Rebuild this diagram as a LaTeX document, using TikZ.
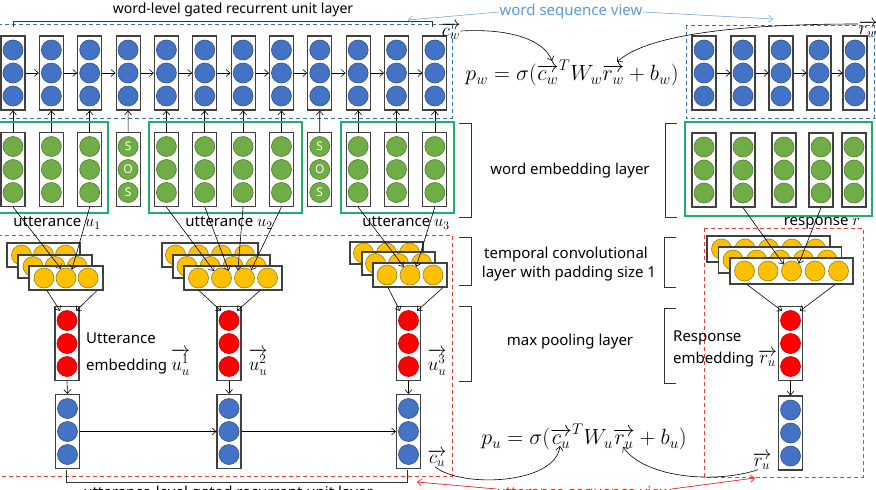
\RequirePackage{fix-cm}
\documentclass[tikz,border=0pt]{standalone}
\usepackage[no-math]{fontspec}
\setmainfont{Noto Sans}
\usetikzlibrary{arrows.meta}
\definecolor{cblue}{RGB}{68,114,196}
\definecolor{cbluedk}{RGB}{47,82,143}
\definecolor{cgreen}{RGB}{112,173,71}
\definecolor{cgreendk}{RGB}{80,126,50}
\definecolor{corange}{RGB}{255,192,0}
\definecolor{corangedk}{RGB}{140,130,20}
\definecolor{cred}{RGB}{255,0,0}
\definecolor{creddk}{RGB}{192,0,0}
\definecolor{boxgray}{RGB}{64,64,64}
\definecolor{grpgreen}{RGB}{30,175,105}
\definecolor{dashblue}{RGB}{46,117,182}
\definecolor{viewblue}{RGB}{91,155,213}
\definecolor{dashred}{RGB}{235,60,60}
\definecolor{viewred}{RGB}{240,30,30}
\tikzset{
 colbox/.style={draw=boxgray, line width=1.1pt, fill=white, minimum width=24pt, minimum height=74pt, inner sep=0pt},
 cdot/.style={circle, inner sep=0pt, minimum size=20pt, line width=0.6pt},
 bdot/.style={cdot, fill=cblue, draw=cbluedk},
 gdot/.style={cdot, fill=cgreen, draw=cgreendk, text=white, font=\fontsize{12}{12}\selectfont},
 odot/.style={cdot, fill=corange, draw=corangedk},
 rdot/.style={cdot, fill=cred, draw=creddk},
 convbox/.style={draw=boxgray, line width=1.1pt, fill=white, inner sep=0pt},
 arr/.style={-{Straight Barb[length=4pt,width=7pt]}, line width=0.6pt},
 lbl/.style={font=\fontsize{15}{18}\selectfont, inner sep=0pt},
 mlbl/.style={font=\fontsize{19}{22}\selectfont, inner sep=0pt},
 brk/.style={line width=0.8pt, draw=black!80},
 grp/.style={draw=grpgreen, line width=1.6pt},
 bdash/.style={draw=dashblue, line width=0.9pt, dash pattern=on 4pt off 3pt},
 rdash/.style={draw=dashred, line width=0.9pt, dash pattern=on 4pt off 3pt},
}
\newcommand\mkcol[4]{%
  \node[colbox] (#1) at (#2,#3) {};
  \node[#4] (#1t) at (#2,#3-23) {};
  \node[#4] (#1m) at (#2,#3) {};
  \node[#4] (#1b) at (#2,#3+23) {};
}
\newcommand\mksos[3]{%
  \node[colbox] (#1) at (#2,#3) {};
  \node[gdot] (#1t) at (#2,#3-23) {S};
  \node[gdot] (#1m) at (#2,#3) {O};
  \node[gdot] (#1b) at (#2,#3+23) {S};
}
\newcommand\mkconv[6]{%
  \node[convbox, minimum width=#4, minimum height=#5] (#1) at (#2,#3) {};
  \foreach \o [count=\k] in {#6} \node[odot] (#1-\k) at ({#2+\o},#3) {};
}
\begin{document}
\begin{tikzpicture}[x=1pt,y=-1pt]
\useasboundingbox (0,0) rectangle (876,490);
% view frames
\draw[bdash] (-2,24) rectangle (452,118);
\draw[bdash] (686,25) rectangle (874,118);
\draw[rdash] (-2,235) rectangle (452,476);
\draw[rdash] (704,228) rectangle (863,477);
% word-level GRU (context)
\foreach \i in {1,...,12} {
  \pgfmathsetmacro\xx{13+38.35*(\i-1)}
  \mkcol{w\i}{\xx}{73}{bdot}
}
\foreach \i [evaluate=\i as \j using int(\i+1)] in {1,...,11}
  \draw[arr] (w\i.east) -- (w\j.west);
% word embeddings (context)
\foreach \i in {1,2,3,5,6,7,8,10,11,12} {
  \pgfmathsetmacro\xx{13+38.35*(\i-1)}
  \mkcol{e\i}{\xx}{169.5}{gdot}
}
\mksos{e4}{128.05}{169.5}
\mksos{e9}{319.75}{169.5}
\foreach \i in {1,...,12}
  \draw[arr] (e\i.north) -- (w\i.south);
% utterance groups
\draw[grp] (-3,122) rectangle (108,213);
\draw[grp] (149,122) rectangle (302,213);
\draw[grp] (341,122) rectangle (454,213);
% response side GRU and embeddings
\foreach \x [count=\i] in {704,743,781,819,855}
  \mkcol{rw\i}{\x}{73}{bdot};
\foreach \i [evaluate=\i as \j using int(\i+1)] in {1,...,4}
  \draw[arr] (rw\i.east) -- (rw\j.west);
\foreach \x [count=\i] in {704,743,784,821,854}
  \mkcol{re\i}{\x}{170}{gdot};
\draw[grp] (685,122) rectangle (872,216);
% labels top
\node[lbl, font=\fontsize{14}{17}\selectfont] (tw) at (233,10) {word-level gated recurrent unit layer};
\draw[brk] (13,27) -- (13,21) -- (432,21) -- (432,27);
\node[lbl, text=viewblue] (wsv) at (571,12) {word sequence view};
\coordinate (wsvL) at (408,20);
\coordinate (wsvR) at (773,19);
\draw[arr, viewblue, line width=0.5pt] (wsv.west) -- (wsvL);
\draw[arr, viewblue, line width=0.5pt] (wsv.east) -- (wsvR);
\node[mlbl] (cw) at (451,31) {$\overrightarrow{c_w}$};
\node[mlbl] (rw) at (868,29) {$\overrightarrow{r_w}$};
\node[font=\fontsize{22}{25}\selectfont, inner sep=0pt] (pw) at (572,73) {$p_w=\sigma(\overrightarrow{c_w}^T W_w\overrightarrow{r_w}+b_w)$};
\coordinate (pwc) at (552,61);
\coordinate (pwr) at (617,62);
\draw[arr] (cw.east) .. controls (515,28) and (545,42) .. (pwc);
\draw[arr] ([yshift=5pt]rw.west) .. controls (730,24) and (645,36) .. (pwr);
% utterance labels
\node[lbl] (ul1) at (57,223) {utterance \fontsize{16.5}{18}\selectfont$u_1$};
\node[lbl] (ul2) at (229,223) {utterance \fontsize{16.5}{18}\selectfont$u_2$};
\node[lbl] (ul3) at (406,223) {utterance \fontsize{16.5}{18}\selectfont$u_3$};
\node[lbl] (rl) at (822,223) {response \fontsize{16.5}{18}\selectfont$r$};
% convolution stacks
\mkconv{ca1}{43.5}{255}{73}{24}{-22,0,22}
\mkconv{cb1}{55}{266.5}{74}{23}{-22,0,22}
\mkconv{cc1}{66}{278}{74}{24}{-22,0,22}
\mkconv{ca2}{210}{255}{96}{24}{-34.5,-11.5,11.5,34.5}
\mkconv{cb2}{221.5}{266.5}{97}{23}{-34.5,-11.5,11.5,34.5}
\mkconv{cc2}{233}{278}{98}{24}{-34.5,-11.5,11.5,34.5}
\mkconv{ca3}{386.5}{253}{73}{22}{-23,0,23}
\mkconv{cb3}{398.5}{263.5}{73}{23}{-23,0,23}
\mkconv{cc3}{410}{275}{74}{24}{-23,0,23}
\mkconv{car}{768.5}{249}{123}{26}{-47,-23.5,0,23.5,47}
\mkconv{cbr}{780}{260}{123}{26}{-47,-23.5,0,23.5,47}
\mkconv{ccr}{791.5}{271}{123}{26}{-47,-23.5,0,23.5,47}
% embedding -> conv
\draw[arr] (e1.south) -- (cc1-2.118);
\draw[arr] (e3.south) -- (cc1-2.55);
\draw[arr] (e5.south) -- (cc2-2.137);
\draw[arr] (e6.south) -- (cc2-2.45);
\draw[arr] (e7.south) -- (cc2-3.130);
\draw[arr] (e8.south) -- (cc2-3.50);
\draw[arr] (e10.south) -- (cc3-2.127);
\draw[arr] (e12.south) -- (cc3-2.53);
\draw[arr] (re2.south) -- (ccr-3.140);
\draw[arr] (re4.south) -- (ccr-3.45);
% max pooling
\mkcol{rp1}{67}{343.5}{rdot}
\mkcol{rp2}{229}{343.5}{rdot}
\mkcol{rp3}{408.5}{343.5}{rdot}
\mkcol{rpr}{790.5}{343.5}{rdot}
\draw[arr] ([xshift=-19pt]cc1.south) -- ([xshift=-7pt,yshift=-5pt]rp1.north);
\draw[arr] ([xshift=31pt]cc1.south) -- ([xshift=9pt,yshift=-5pt]rp1.north);
\draw[arr] ([xshift=-34pt]cc2.south) -- ([xshift=-8pt,yshift=-5pt]rp2.north);
\draw[arr] ([xshift=27pt]cc2.south) -- ([xshift=8pt,yshift=-5pt]rp2.north);
\draw[arr] ([xshift=-22pt]cc3.south) -- ([xshift=-8.5pt,yshift=-5pt]rp3.north);
\draw[arr] ([xshift=33pt]cc3.south) -- ([xshift=8.5pt,yshift=-5pt]rp3.north);
\draw[arr] ([xshift=-44.5pt]ccr.south) -- ([xshift=-8.5pt,yshift=-5pt]rpr.north);
\draw[arr] ([xshift=43.5pt]ccr.south) -- ([xshift=9.5pt,yshift=-5pt]rpr.north);
% utterance-level GRU
\mkcol{ub1}{67.5}{431.5}{bdot}
\mkcol{ub2}{229}{431.5}{bdot}
\mkcol{ub3}{408.5}{431.5}{bdot}
\mkcol{ubr}{790.5}{433}{bdot}
\draw[arr] (rp1.south) -- (ub1.north);
\draw[arr] (rp2.south) -- (ub2.north);
\draw[arr] (rp3.south) -- (ub3.north);
\draw[arr] (rpr.south) -- (ubr.north);
\draw[arr] (ub1.east) -- (ub2.west);
\draw[arr] (ub2.east) -- (ub3.west);
% embedding labels
\node[lbl, anchor=west] (ue1) at (86,338) {Utterance};
\node[lbl, anchor=west] (ue2) at (86,362) {embedding \fontsize{19}{22}\selectfont$\overrightarrow{u_u^1}$};
\node[mlbl] (uu2) at (258,362) {$\overrightarrow{u_u^2}$};
\node[mlbl] (uu3) at (437,362) {$\overrightarrow{u_u^3}$};
\node[lbl, anchor=west] (re1l) at (673,338) {Response};
\node[lbl, anchor=west] (re2l) at (673,358) {embedding \fontsize{19}{22}\selectfont$\overrightarrow{r_u}$};
% layer descriptions with brackets
\node[lbl] (wel) at (570,171) {word embedding layer};
\draw[brk] (459,123) -- (471,123) -- (471,217) -- (459,217);
\draw[brk] (677,123) -- (665,123) -- (665,217) -- (677,217);
\node[lbl] (tc1) at (566,255) {temporal convolutional};
\node[lbl] (tc2) at (569,274) {layer with padding size 1};
\draw[brk] (459,237) -- (471,237) -- (471,285) -- (459,285);
\draw[brk] (676,237) -- (664,237) -- (664,287) -- (676,287);
\node[lbl] (mpl) at (570,342) {max pooling layer};
\draw[brk] (459,306) -- (471,306) -- (471,381) -- (459,381);
\draw[brk] (676,308) -- (664,308) -- (664,383) -- (676,383);
% bottom
\draw[brk] (66,470) -- (66,482) -- (407,482) -- (407,470);
\node[lbl] (ulg) at (228,494) {utterance-level gated recurrent unit layer};
\node[lbl, text=viewred] (usv) at (584,494) {utterance sequence view};
\coordinate (usvL) at (417,482);
\coordinate (usvR) at (755,478);
\draw[arr, viewred, line width=0.7pt] ([yshift=5pt]usv.west) -- (usvL);
\draw[arr, viewred, line width=0.7pt] ([yshift=5pt]usv.east) -- (usvR);
\node[mlbl] (cu) at (437,458) {$\overrightarrow{c_u}$};
\node[mlbl] (ru) at (762,461) {$\overrightarrow{r_u}$};
\node[font=\fontsize{22}{25}\selectfont, inner sep=0pt] (pu) at (584,437) {$p_u=\sigma(\overrightarrow{c_u}^T W_u\overrightarrow{r_u}+b_u)$};
\coordinate (puc) at (560,446);
\coordinate (pur) at (623,447);
\draw[arr] ([xshift=-2pt]cu.south) .. controls (460,488) and (555,485) .. (puc);
\draw[arr] ([xshift=-4pt]ru.south) .. controls (715,484) and (645,478) .. (pur);
\end{tikzpicture}
\end{document}
